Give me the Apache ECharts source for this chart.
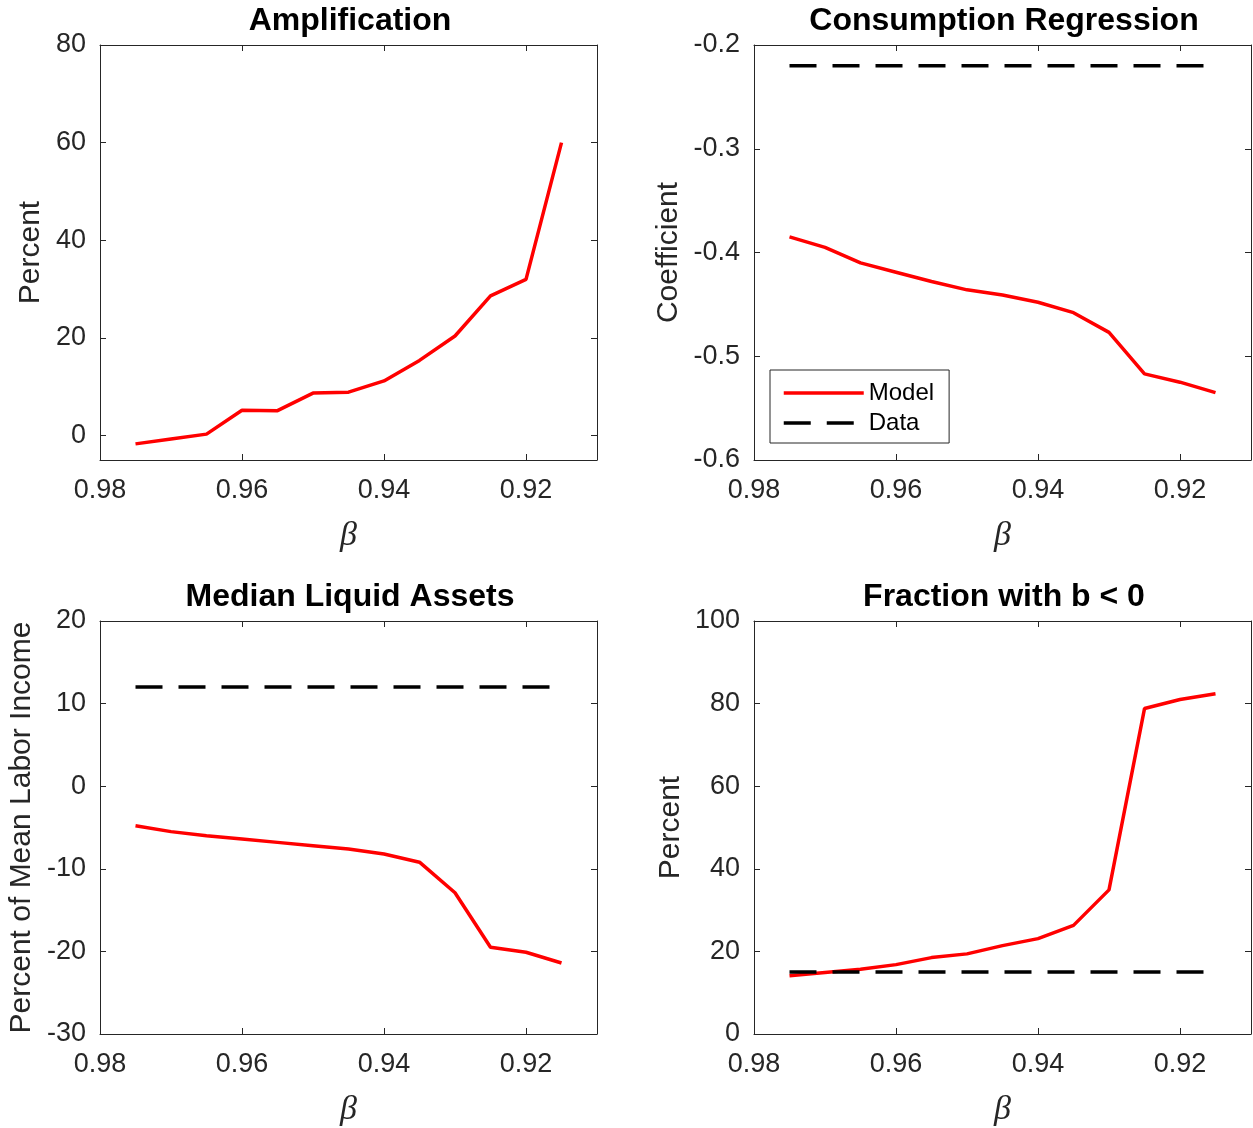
<!DOCTYPE html>
<html>
<head>
<meta charset="utf-8">
<script src="https://cdn.jsdelivr.net/npm/echarts@6/dist/echarts.min.js"></script>
<style>
  html, body { margin: 0; padding: 0; background: #ffffff; }
  #chart { width: 1253px; height: 1128px; }
</style>
</head>
<body>
<div id="chart"></div>
<script>
// Discount factor grid (x values shared by all four panels)
const beta = [0.975, 0.970, 0.965, 0.960, 0.955, 0.950, 0.945, 0.940, 0.935, 0.930, 0.925, 0.920, 0.915];
const xTicks = [0.98, 0.96, 0.94, 0.92];

// Panel 1: Amplification (percent)
const amplification = [-1.7, -0.7, 0.3, 5.2, 5.1, 8.7, 8.9, 11.2, 15.4, 20.4, 28.6, 32.0, 60.0];
const ampTicks = [0, 20, 40, 60, 80];

// Panel 2: Consumption regression coefficient
const consumptionModel = [-0.385, -0.395, -0.410, -0.419, -0.428, -0.436, -0.441, -0.448, -0.458, -0.477, -0.517, -0.525, -0.535];
const consumptionData = -0.22;
const consTicks = [-0.6, -0.5, -0.4, -0.3, -0.2];

// Panel 3: Median liquid assets (percent of mean labor income)
const liquidModel = [-4.8, -5.5, -6.0, -6.4, -6.8, -7.2, -7.6, -8.2, -9.2, -12.9, -19.5, -20.1, -21.4];
const liquidData = 12.0;
const liqTicks = [-30, -20, -10, 0, 10, 20];

// Panel 4: Fraction of households with b < 0 (percent)
const fractionModel = [14.1, 14.9, 15.7, 16.8, 18.5, 19.4, 21.4, 23.1, 26.3, 34.9, 78.8, 81.0, 82.4];
const fractionData = 15.0;
const fracTicks = [0, 20, 40, 60, 80, 100];

const INK = '#262626';
const SANS = '"Liberation Sans", Arial, Helvetica, sans-serif';
const TICK_FONT = 27;
const NAME_FONT = 30;
const DASH = [27, 16];

const grids = [], xAxes = [], yAxes = [], series = [], titles = [];

function pairs(xs, ys) { return xs.map((x, i) => [x, ys[i]]); }

function addPanel(p) {
  const gi = grids.length;
  grids.push({ left: p.left, top: p.top, width: 497, height: p.height });
  const tickStyle = { show: true, inside: true, length: 6, lineStyle: { color: INK, width: 1 } };
  const lineStyle = { show: true, onZero: false, lineStyle: { color: INK, width: 1 } };
  // bottom x axis with labels
  xAxes.push({
    type: 'value', gridIndex: gi, position: 'bottom', min: 0.91, max: 0.98, inverse: true,
    axisLine: lineStyle,
    axisTick: Object.assign({ customValues: xTicks }, tickStyle),
    axisLabel: { customValues: xTicks, color: INK, fontSize: TICK_FONT, fontFamily: SANS, margin: 17,
                 formatter: v => v.toFixed(2) },
    splitLine: { show: false },
    name: 'β', nameLocation: 'middle', nameGap: 59,
    nameTextStyle: { fontFamily: '"Liberation Serif", "DejaVu Serif", serif', fontStyle: 'italic', fontSize: 34, color: INK }
  });
  // top mirror axis (ticks only)
  xAxes.push({
    type: 'value', gridIndex: gi, position: 'top', min: 0.91, max: 0.98, inverse: true,
    axisLine: lineStyle,
    axisTick: Object.assign({ customValues: xTicks }, tickStyle),
    axisLabel: { show: false }, splitLine: { show: false }
  });
  // left y axis with labels
  yAxes.push({
    type: 'value', gridIndex: gi, position: 'left', min: p.yMin, max: p.yMax,
    axisLine: lineStyle,
    axisTick: Object.assign({ customValues: p.yTicks }, tickStyle),
    axisLabel: { customValues: p.yTicks, color: INK, fontSize: TICK_FONT, fontFamily: SANS, margin: 14,
                 formatter: v => String(Math.round(v * 100) / 100) },
    splitLine: { show: false },
    name: p.yName, nameLocation: 'middle', nameGap: p.nameGap,
    nameTextStyle: { fontFamily: SANS, fontSize: NAME_FONT, color: INK }
  });
  // right mirror axis (ticks only)
  yAxes.push({
    type: 'value', gridIndex: gi, position: 'right', min: p.yMin, max: p.yMax,
    axisLine: lineStyle,
    axisTick: Object.assign({ customValues: p.yTicks }, tickStyle),
    axisLabel: { show: false }, splitLine: { show: false }
  });
  titles.push({
    text: p.title, left: p.left + 245, top: p.top - 45, textAlign: 'center',
    textStyle: { fontFamily: SANS, fontWeight: 'bold', fontSize: 32, color: '#000' }
  });
  series.push({
    name: 'Model', type: 'line', xAxisIndex: 2 * gi, yAxisIndex: 2 * gi,
    data: pairs(beta, p.model), symbol: 'none', silent: true,
    lineStyle: { color: '#ff0000', width: 3.5 }, itemStyle: { color: '#ff0000' }
  });
  if (p.data !== undefined) {
    series.push({
      name: 'Data', type: 'line', xAxisIndex: 2 * gi, yAxisIndex: 2 * gi,
      data: pairs([beta[0], beta[beta.length - 1]], [p.data, p.data]), symbol: 'none', silent: true,
      lineStyle: { color: '#000000', width: 3.5, type: DASH }, itemStyle: { color: '#000000' }
    });
  }
}

addPanel({ left: 100, top: 45, height: 415, title: 'Amplification', yName: 'Percent', nameGap: 54,
           yMin: -5, yMax: 80, yTicks: ampTicks, model: amplification });
addPanel({ left: 754, top: 45, height: 415, title: 'Consumption Regression', yName: 'Coefficient', nameGap: 70,
           yMin: -0.6, yMax: -0.2, yTicks: consTicks, model: consumptionModel, data: consumptionData });
addPanel({ left: 100, top: 621, height: 414, title: 'Median Liquid Assets', yName: 'Percent of Mean Labor Income', nameGap: 63,
           yMin: -30, yMax: 20, yTicks: liqTicks, model: liquidModel, data: liquidData });
addPanel({ left: 754, top: 621, height: 414, title: 'Fraction with b < 0', yName: 'Percent', nameGap: 68,
           yMin: 0, yMax: 100, yTicks: fracTicks, model: fractionModel, data: fractionData });

const chart = echarts.init(document.getElementById('chart'), null, { renderer: 'canvas' });
chart.setOption({
  animation: false,
  backgroundColor: '#ffffff',
  title: titles,
  grid: grids,
  xAxis: xAxes,
  yAxis: yAxes,
  series: series,
  legend: {
    data: [
      { name: 'Model', lineStyle: { color: '#ff0000', width: 3.5, type: 'solid' } },
      { name: 'Data', lineStyle: { color: '#000000', width: 3.5, type: DASH } }
    ],
    orient: 'vertical', left: 770, top: 370,
    selectedMode: false, itemWidth: 80, itemHeight: 20, itemGap: 6,
    padding: [11, 15, 8, 12],
    itemStyle: { opacity: 0 },
    borderColor: INK, borderWidth: 1, backgroundColor: '#ffffff',
    textStyle: { fontFamily: SANS, fontSize: 24, color: '#000' }
  }
});
</script>
</body>
</html>
